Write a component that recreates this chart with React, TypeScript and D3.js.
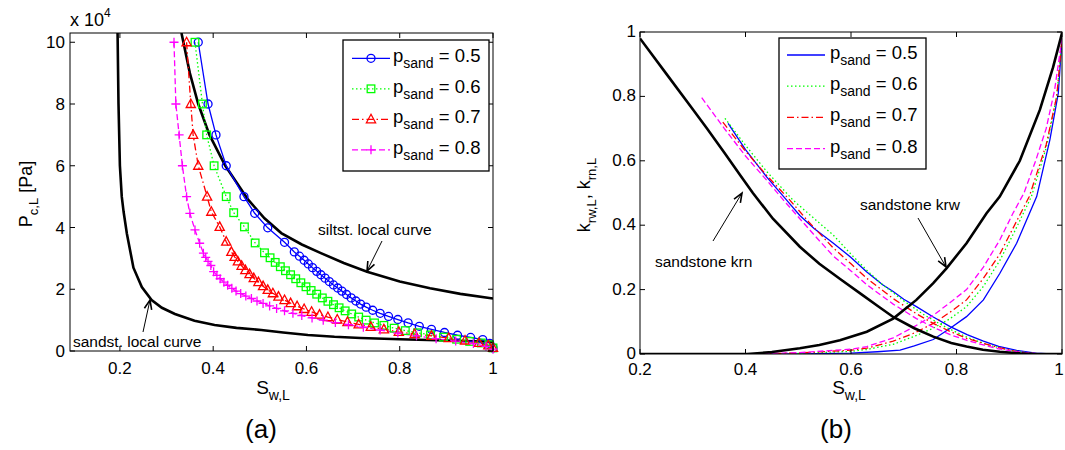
import React from "react";
import * as d3 from "d3";

// ---------- Panel (a): capillary pressure (Pa, x1e4) ----------
const sandstSw = [0.195, 0.197, 0.2, 0.204, 0.208, 0.215, 0.229, 0.247, 0.268, 0.29, 0.318, 0.36, 0.403, 0.45, 0.503, 0.55, 0.603, 0.66, 0.716, 0.8, 0.9, 1.0];
const sandstPc = [10.3, 8, 6, 5, 4.5, 3.8, 2.7, 2.07, 1.65, 1.4, 1.2, 0.98, 0.84, 0.75, 0.68, 0.6, 0.52, 0.46, 0.42, 0.38, 0.34, 0.3];
const siltSw = [0.332, 0.35, 0.368, 0.392, 0.426, 0.475, 0.51, 0.546, 0.59, 0.631, 0.68, 0.73, 0.8, 0.865, 0.93, 1.0];
const siltPc = [10.3, 9, 8, 7, 6, 4.9, 4.3, 3.82, 3.45, 3.17, 2.85, 2.57, 2.25, 2.03, 1.85, 1.7];

const p05Sw = [0.368, 0.389, 0.406, 0.428, 0.466, 0.489, 0.517, 0.553, 0.574, 0.585, 0.595, 0.604, 0.613, 0.622, 0.631, 0.64, 0.649, 0.658, 0.667, 0.676, 0.686, 0.696, 0.706, 0.716, 0.728, 0.742, 0.758, 0.776, 0.796, 0.818, 0.842, 0.868, 0.896, 0.924, 0.952, 0.978, 0.993, 1.0];
const p05Pc = [10, 8, 7, 6, 5, 4.46, 3.99, 3.52, 3.21, 3.07, 2.94, 2.82, 2.7, 2.58, 2.47, 2.36, 2.25, 2.14, 2.04, 1.94, 1.83, 1.72, 1.62, 1.52, 1.42, 1.32, 1.22, 1.12, 1.02, 0.91, 0.8, 0.7, 0.6, 0.51, 0.44, 0.37, 0.25, 0.1];
const p06Sw = [0.361, 0.377, 0.386, 0.402, 0.428, 0.444, 0.467, 0.49, 0.51, 0.522, 0.533, 0.544, 0.555, 0.566, 0.577, 0.588, 0.599, 0.61, 0.622, 0.634, 0.646, 0.658, 0.67, 0.683, 0.697, 0.712, 0.728, 0.746, 0.766, 0.788, 0.812, 0.838, 0.866, 0.894, 0.922, 0.95, 0.975, 0.992, 1.0];
const p06Pc = [10, 8, 7, 6, 5, 4.48, 4.02, 3.5, 3.18, 3.02, 2.87, 2.73, 2.6, 2.47, 2.34, 2.21, 2.08, 1.96, 1.84, 1.72, 1.61, 1.5, 1.4, 1.3, 1.2, 1.1, 1.0, 0.91, 0.83, 0.74, 0.66, 0.59, 0.52, 0.45, 0.38, 0.31, 0.26, 0.2, 0.1];
const p07Sw = [0.343, 0.352, 0.357, 0.368, 0.387, 0.396, 0.414, 0.428, 0.439, 0.446, 0.453, 0.461, 0.469, 0.478, 0.487, 0.497, 0.507, 0.517, 0.528, 0.54, 0.553, 0.566, 0.58, 0.595, 0.611, 0.628, 0.646, 0.666, 0.688, 0.712, 0.738, 0.766, 0.798, 0.832, 0.868, 0.905, 0.94, 0.97, 0.99, 1.0];
const p07Pc = [10, 8, 7, 6, 5, 4.51, 4.02, 3.54, 3.21, 3.05, 2.9, 2.76, 2.62, 2.49, 2.36, 2.23, 2.1, 1.98, 1.87, 1.76, 1.65, 1.55, 1.45, 1.36, 1.27, 1.18, 1.1, 1.02, 0.94, 0.86, 0.78, 0.7, 0.62, 0.55, 0.49, 0.42, 0.34, 0.26, 0.18, 0.1];
const p08Sw = [0.316, 0.32, 0.327, 0.334, 0.343, 0.35, 0.361, 0.371, 0.379, 0.384, 0.389, 0.395, 0.401, 0.408, 0.415, 0.423, 0.431, 0.44, 0.449, 0.459, 0.47, 0.482, 0.494, 0.507, 0.521, 0.536, 0.553, 0.571, 0.59, 0.612, 0.636, 0.662, 0.69, 0.722, 0.758, 0.796, 0.836, 0.878, 0.92, 0.958, 0.985, 1.0];
const p08Pc = [10, 8, 7, 6, 5, 4.46, 3.92, 3.49, 3.17, 3.03, 2.9, 2.77, 2.57, 2.45, 2.34, 2.23, 2.13, 2.03, 1.94, 1.86, 1.78, 1.7, 1.62, 1.54, 1.46, 1.38, 1.3, 1.22, 1.15, 1.07, 1.0, 0.92, 0.85, 0.77, 0.68, 0.58, 0.49, 0.4, 0.32, 0.24, 0.15, 0.06];

const pcXTicks = [0.2, 0.4, 0.6, 0.8, 1];
const pcYTicks = [0, 2, 4, 6, 8, 10];
const legendLabels = ["0.5", "0.6", "0.7", "0.8"];

// ---------- Panel (b): relative permeability ----------
const sKrnSw = [0.2, 0.25, 0.3, 0.327, 0.36, 0.39, 0.414, 0.452, 0.503, 0.54, 0.58, 0.62, 0.65, 0.68, 0.72, 0.756, 0.79, 0.819, 0.85, 0.882, 0.92, 0.945, 1.0];
const sKrnKr = [0.98, 0.87, 0.76, 0.7, 0.625, 0.555, 0.5, 0.42, 0.333, 0.28, 0.232, 0.185, 0.15, 0.115, 0.08, 0.054, 0.034, 0.023, 0.013, 0.007, 0.002, 0.0, 0.0];
const sKrwSw = [0.2, 0.3, 0.403, 0.45, 0.503, 0.54, 0.579, 0.63, 0.68, 0.724, 0.756, 0.781, 0.819, 0.857, 0.882, 0.92, 0.958, 0.983, 1.0];
const sKrwKr = [0.0, 0.0, 0.0, 0.006, 0.018, 0.028, 0.043, 0.069, 0.11, 0.168, 0.22, 0.266, 0.344, 0.437, 0.489, 0.6, 0.758, 0.89, 0.997];

const krnSw05 = [0.367, 0.4, 0.44, 0.478, 0.503, 0.53, 0.566, 0.6, 0.63, 0.66, 0.68, 0.7, 0.724, 0.756, 0.788, 0.82, 0.851, 0.88, 0.914, 0.95, 0.98, 1.0];
const krnKr05 = [0.716, 0.635, 0.55, 0.478, 0.43, 0.39, 0.345, 0.3, 0.255, 0.215, 0.194, 0.17, 0.147, 0.115, 0.085, 0.06, 0.04, 0.024, 0.011, 0.003, 0.0, 0.0];
const krnSw06 = [0.361, 0.4, 0.44, 0.49, 0.52, 0.566, 0.6, 0.63, 0.66, 0.7, 0.74, 0.78, 0.82, 0.86, 0.9, 0.94, 0.97, 1.0];
const krnKr06 = [0.732, 0.648, 0.567, 0.478, 0.435, 0.37, 0.31, 0.26, 0.215, 0.165, 0.12, 0.083, 0.052, 0.028, 0.012, 0.003, 0.0, 0.0];
const krnSw07 = [0.357, 0.4, 0.44, 0.484, 0.52, 0.566, 0.6, 0.63, 0.68, 0.724, 0.756, 0.788, 0.82, 0.851, 0.88, 0.91, 0.94, 0.97, 1.0];
const krnKr07 = [0.72, 0.63, 0.555, 0.478, 0.41, 0.33, 0.28, 0.235, 0.172, 0.125, 0.095, 0.07, 0.048, 0.033, 0.02, 0.009, 0.002, 0.0, 0.0];
const krnSw08 = [0.317, 0.36, 0.4, 0.44, 0.472, 0.503, 0.53, 0.566, 0.6, 0.63, 0.68, 0.724, 0.756, 0.788, 0.82, 0.851, 0.88, 0.914, 0.96, 1.0];
const krnKr08 = [0.796, 0.7, 0.615, 0.54, 0.478, 0.42, 0.37, 0.305, 0.258, 0.215, 0.155, 0.11, 0.083, 0.06, 0.042, 0.028, 0.016, 0.007, 0.0, 0.0];

const krwSw05 = [0.4, 0.5, 0.6, 0.65, 0.693, 0.72, 0.756, 0.788, 0.819, 0.851, 0.882, 0.914, 0.952, 0.977, 0.993, 1.0];
const krwKr05 = [0.0, 0.0, 0.003, 0.007, 0.012, 0.025, 0.045, 0.08, 0.116, 0.168, 0.25, 0.344, 0.489, 0.665, 0.81, 0.98];
const krwSw06 = [0.4, 0.5, 0.6, 0.63, 0.68, 0.72, 0.756, 0.788, 0.819, 0.851, 0.882, 0.91, 0.942, 0.97, 0.99, 1.0];
const krwKr06 = [0.0, 0.002, 0.008, 0.014, 0.03, 0.055, 0.08, 0.11, 0.147, 0.21, 0.29, 0.38, 0.489, 0.64, 0.8, 0.98];
const krwSw07 = [0.4, 0.5, 0.6, 0.63, 0.68, 0.72, 0.756, 0.788, 0.819, 0.851, 0.882, 0.91, 0.938, 0.97, 0.99, 1.0];
const krwKr07 = [0.0, 0.003, 0.012, 0.018, 0.04, 0.065, 0.095, 0.13, 0.168, 0.235, 0.31, 0.4, 0.489, 0.65, 0.8, 0.98];
const krwSw08 = [0.4, 0.5, 0.6, 0.63, 0.68, 0.72, 0.756, 0.788, 0.819, 0.851, 0.882, 0.908, 0.928, 0.95, 0.97, 0.986, 1.0];
const krwKr08 = [0.0, 0.004, 0.015, 0.023, 0.05, 0.085, 0.12, 0.16, 0.2, 0.27, 0.354, 0.44, 0.5, 0.6, 0.7, 0.82, 0.98];

const krXTicks = [0.2, 0.4, 0.6, 0.8, 1];
const krYTicks = [0, 0.2, 0.4, 0.6, 0.8, 1];

const FONT = "'Liberation Sans', Arial, Helvetica, sans-serif";
const BLUE = "#0000ff";
const GREEN = "#00ff00";
const RED = "#ff0000";
const MAG = "#ff00ff";

const zip = (xs: number[], ys: number[]) => xs.map((x, i) => [x, ys[i]] as [number, number]);

type Marker = "o" | "s" | "t" | "p";

function MarkerShape({ kind, x, y, color }: { kind: Marker; x: number; y: number; color: string }) {
  const sw = 1.3;
  if (kind === "o") return <circle cx={x} cy={y} r={4} fill="none" stroke={color} strokeWidth={sw} />;
  if (kind === "s") return <rect x={x - 3.8} y={y - 3.8} width={7.6} height={7.6} fill="none" stroke={color} strokeWidth={sw} />;
  if (kind === "t")
    return <path d={`M${x},${y - 5}L${x + 4.6},${y + 3.5}L${x - 4.6},${y + 3.5}Z`} fill="none" stroke={color} strokeWidth={sw} />;
  return <path d={`M${x - 4.5},${y}H${x + 4.5}M${x},${y - 4.5}V${y + 4.5}`} fill="none" stroke={color} strokeWidth={sw} />;
}

function Psand({ x, y, val }: { x: number; y: number; val: string }) {
  return (
    <text x={x} y={y} fontFamily={FONT} fontSize={18.5} fill="#000">
      p
      <tspan dy={6} fontSize={14}>sand</tspan>
      <tspan dy={-6}> = {val}</tspan>
    </text>
  );
}

function Arrow({ x1, y1, x2, y2 }: { x1: number; y1: number; x2: number; y2: number }) {
  const ang = Math.atan2(y2 - y1, x2 - x1);
  const L = 10;
  const w = 0.38;
  const ax = x2 - L * Math.cos(ang - w);
  const ay = y2 - L * Math.sin(ang - w);
  const bx = x2 - L * Math.cos(ang + w);
  const by = y2 - L * Math.sin(ang + w);
  return (
    <g stroke="#000" fill="none" strokeWidth={1}>
      <line x1={x1} y1={y1} x2={x2} y2={y2} />
      <path d={`M${ax},${ay}L${x2},${y2}L${bx},${by}`} strokeWidth={1.6} />
    </g>
  );
}

export default function App() {
  // Panel (a) scales
  const xa = d3.scaleLinear().domain([0.093, 1]).range([70, 493]);
  const ya = d3.scaleLinear().domain([0, 10.3]).range([351, 33]);
  const lineA = d3.line<[number, number]>().x((d) => xa(d[0])).y((d) => ya(d[1]));

  // Panel (b) scales
  const xb = d3.scaleLinear().domain([0.2, 1]).range([640, 1062]);
  const yb = d3.scaleLinear().domain([0, 1]).range([354, 32]);
  const lineB = d3.line<[number, number]>().x((d) => xb(d[0])).y((d) => yb(d[1]));

  const pcSeries = [
    { sw: p05Sw, pc: p05Pc, color: BLUE, dash: "none", m: "o" as Marker },
    { sw: p06Sw, pc: p06Pc, color: GREEN, dash: "1.5,2.5", m: "s" as Marker },
    { sw: p07Sw, pc: p07Pc, color: RED, dash: "7,3,1.5,3", m: "t" as Marker },
    { sw: p08Sw, pc: p08Pc, color: MAG, dash: "6,3", m: "p" as Marker },
  ];
  const krSeries = [
    { n: [krnSw05, krnKr05], w: [krwSw05, krwKr05], color: BLUE, dash: "none" },
    { n: [krnSw06, krnKr06], w: [krwSw06, krwKr06], color: GREEN, dash: "1.5,2.5" },
    { n: [krnSw07, krnKr07], w: [krwSw07, krwKr07], color: RED, dash: "7,3,1.5,3" },
    { n: [krnSw08, krnKr08], w: [krwSw08, krwKr08], color: MAG, dash: "6,3" },
  ];

  const tickLen = 5;
  const frame = (x0: number, x1: number, y0: number, y1: number) => (
    <rect x={x0} y={y0} width={x1 - x0} height={y1 - y0} fill="none" stroke="#000" strokeWidth={1} />
  );

  return (
    <svg width={1065} height={450} style={{ display: "block", position: "absolute", left: 0, top: 0, background: "#fff" }}>
      <rect x={0} y={0} width={1065} height={450} fill="#fff" />
      {/* ================= Panel (a) ================= */}
      <defs>
        <clipPath id="clipA">
          <rect x={70} y={33} width={423} height={318} />
        </clipPath>
        <clipPath id="clipB">
          <rect x={640} y={32} width={422} height={322} />
        </clipPath>
      </defs>
      <g clipPath="url(#clipA)">
        <path d={lineA(zip(sandstSw, sandstPc)) || ""} fill="none" stroke="#000" strokeWidth={2.6} />
        <path d={lineA(zip(siltSw, siltPc)) || ""} fill="none" stroke="#000" strokeWidth={2.6} />
        {pcSeries.map((s, i) => (
          <g key={i}>
            <path d={lineA(zip(s.sw, s.pc)) || ""} fill="none" stroke={s.color} strokeWidth={1.3} strokeDasharray={s.dash} />
          </g>
        ))}
      </g>
      {pcSeries.map((s, i) => (
        <g key={"m" + i}>
          {s.sw.map((v, j) => (
            <MarkerShape key={j} kind={s.m} x={xa(v)} y={ya(s.pc[j])} color={s.color} />
          ))}
        </g>
      ))}
      {frame(70, 493, 33, 351)}
      {pcXTicks.map((t) => (
        <g key={"xa" + t}>
          <line x1={xa(t)} x2={xa(t)} y1={351} y2={351 - tickLen} stroke="#000" />
          <line x1={xa(t)} x2={xa(t)} y1={33} y2={33 + tickLen} stroke="#000" />
          <text x={xa(t)} y={374} textAnchor="middle" fontFamily={FONT} fontSize={17}>
            {String(t)}
          </text>
        </g>
      ))}
      {pcYTicks.map((t) => (
        <g key={"ya" + t}>
          <line x1={70} x2={70 + tickLen} y1={ya(t)} y2={ya(t)} stroke="#000" />
          <line x1={493} x2={493 - tickLen} y1={ya(t)} y2={ya(t)} stroke="#000" />
          <text x={65} y={ya(t) + 6} textAnchor="end" fontFamily={FONT} fontSize={17}>
            {String(t)}
          </text>
        </g>
      ))}
      <text x={70} y={26} fontFamily={FONT} fontSize={18}>
        x 10
        <tspan dy={-9} fontSize={12}>4</tspan>
      </text>
      <text transform="translate(32,194) rotate(-90)" textAnchor="middle" fontFamily={FONT} fontSize={18}>
        P<tspan dy={6} fontSize={13}>c,L</tspan>
        <tspan dy={-6}> [Pa]</tspan>
      </text>
      <text x={273} y={394} textAnchor="middle" fontFamily={FONT} fontSize={19}>
        S<tspan dy={6} fontSize={14}>w,L</tspan>
      </text>
      <text x={261} y={438} textAnchor="middle" fontFamily={FONT} fontSize={26}>
        (a)
      </text>
      {/* annotations */}
      <text x={318} y={235} fontFamily={FONT} fontSize={15.5}>
        siltst. local curve
      </text>
      <Arrow x1={382} y1={241} x2={367} y2={271} />
      <text x={73} y={347} fontFamily={FONT} fontSize={15.5}>
        sandst. local curve
      </text>
      <Arrow x1={143} y1={332} x2={150} y2={300} />
      {/* legend a */}
      <rect x={343} y={40} width={146} height={131} fill="#fff" stroke="#000" strokeWidth={1.3} />
      {pcSeries.map((s, i) => {
        const yy = 58.3 + i * 30.5;
        return (
          <g key={"la" + i}>
            <line x1={352} x2={390} y1={yy} y2={yy} stroke={s.color} strokeWidth={1.3} strokeDasharray={s.dash} />
            <MarkerShape kind={s.m} x={371} y={yy} color={s.color} />
            <Psand x={393} y={yy + 4} val={legendLabels[i]} />
          </g>
        );
      })}

      {/* ================= Panel (b) ================= */}
      <g clipPath="url(#clipB)">
        {krSeries.map((s, i) => (
          <g key={"kb" + i}>
            <path d={lineB(zip(s.n[0], s.n[1])) || ""} fill="none" stroke={s.color} strokeWidth={1.3} strokeDasharray={s.dash} />
            <path d={lineB(zip(s.w[0], s.w[1])) || ""} fill="none" stroke={s.color} strokeWidth={1.3} strokeDasharray={s.dash} />
          </g>
        ))}
        <path d={lineB(zip(sKrnSw, sKrnKr)) || ""} fill="none" stroke="#000" strokeWidth={2.6} />
        <path d={lineB(zip(sKrwSw, sKrwKr)) || ""} fill="none" stroke="#000" strokeWidth={2.6} />
      </g>
      {frame(640, 1062, 32, 354)}
      {krXTicks.map((t) => (
        <g key={"xb" + t}>
          <line x1={xb(t)} x2={xb(t)} y1={354} y2={354 - tickLen} stroke="#000" />
          <line x1={xb(t)} x2={xb(t)} y1={32} y2={32 + tickLen} stroke="#000" />
          <text x={t === 1 ? xb(t) - 3 : xb(t)} y={375} textAnchor="middle" fontFamily={FONT} fontSize={17}>
            {String(t)}
          </text>
        </g>
      ))}
      {krYTicks.map((t) => (
        <g key={"yb" + t}>
          <line x1={640} x2={640 + tickLen} y1={yb(t)} y2={yb(t)} stroke="#000" />
          <line x1={1062} x2={1062 - tickLen} y1={yb(t)} y2={yb(t)} stroke="#000" />
          <text x={636} y={yb(t) + 5} textAnchor="end" fontFamily={FONT} fontSize={17}>
            {String(t)}
          </text>
        </g>
      ))}
      <text transform="translate(590,195) rotate(-90)" textAnchor="middle" fontFamily={FONT} fontSize={18}>
        k<tspan dy={6} fontSize={13}>rw,L</tspan>
        <tspan dy={-6}>, k</tspan>
        <tspan dy={6} fontSize={13}>rn,L</tspan>
      </text>
      <text x={849} y={394} textAnchor="middle" fontFamily={FONT} fontSize={19}>
        S<tspan dy={6} fontSize={14}>w,L</tspan>
      </text>
      <text x={836} y={438} textAnchor="middle" fontFamily={FONT} fontSize={26}>
        (b)
      </text>
      <text x={655} y={267} fontFamily={FONT} fontSize={15.5}>
        sandstone krn
      </text>
      <Arrow x1={713} y1={241} x2={742} y2={193} />
      <text x={860} y={210} fontFamily={FONT} fontSize={15.5}>
        sandstone krw
      </text>
      <Arrow x1={918} y1={218} x2={946} y2={267} />
      {/* legend b */}
      <rect x={779} y={38} width={147} height={131} fill="#fff" stroke="#000" strokeWidth={1.3} />
      {krSeries.map((s, i) => {
        const yy = 55 + i * 31.2;
        return (
          <g key={"lb" + i}>
            <line x1={787} x2={825} y1={yy} y2={yy} stroke={s.color} strokeWidth={1.3} strokeDasharray={s.dash} />
            <Psand x={830} y={yy + 4} val={legendLabels[i]} />
          </g>
        );
      })}
    </svg>
  );
}
